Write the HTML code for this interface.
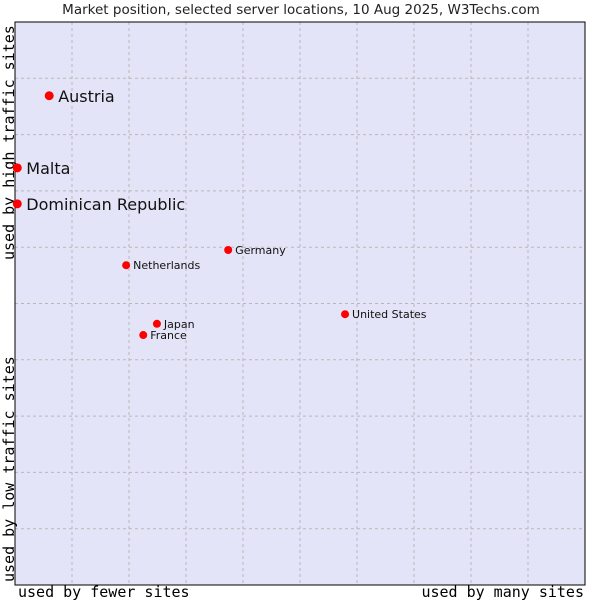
<!DOCTYPE html>
<html><head><meta charset="utf-8"><style>body{margin:0;background:#fff}svg{display:block}</style></head><body>
<svg id="c" width="600" height="600" xmlns="http://www.w3.org/2000/svg">
<rect width="600" height="600" fill="#fff"/>
<text x="301" y="14" text-anchor="middle" font-family="DejaVu Sans, sans-serif" font-size="13.5" fill="#222">Market position, selected server locations, 10 Aug 2025, W3Techs.com</text>
<rect x="15" y="22" width="570" height="563" fill="#e4e4f8"/>
<g id="grid"></g>
<rect x="15" y="22" width="570" height="563" fill="none" stroke="#000" stroke-width="1"/>
<text x="18" y="597" font-family="DejaVu Sans Mono, monospace" font-size="15" fill="#000">used by fewer sites</text>
<text x="584" y="597" text-anchor="end" font-family="DejaVu Sans Mono, monospace" font-size="15" fill="#000">used by many sites</text>
<text transform="translate(14,582) rotate(-90)" font-family="DejaVu Sans Mono, monospace" font-size="15" fill="#000">used by low traffic sites</text>
<text transform="translate(14,260) rotate(-90)" font-family="DejaVu Sans Mono, monospace" font-size="15" fill="#000">used by high traffic sites</text>
<g id="pts"></g>
</svg>
<script>
const names=["Austria","Malta","Dominican Republic","Germany","Netherlands","United States","Japan","France"];
const xs=[6,0.4,0.4,37.4,19.5,57.9,24.9,22.5];
const ys=[86.9,74.1,67.7,59.5,56.8,48.1,46.4,44.4];
const big=[true,true,true,false,false,false,false,false];
const ns="http://www.w3.org/2000/svg";
const X=v=>15+v*5.7, Y=v=>585-v*5.63;
const g=document.getElementById('grid');
for(let i=1;i<10;i++){
 const l=document.createElementNS(ns,'line');
 l.setAttribute('x1',X(i*10));l.setAttribute('x2',X(i*10));l.setAttribute('y1',22);l.setAttribute('y2',585);
 l.setAttribute('stroke','#b8b8b8');l.setAttribute('stroke-dasharray','3,3');
 
 
 g.appendChild(l);
 const h=document.createElementNS(ns,'line');
 h.setAttribute('y1',Y(i*10));h.setAttribute('y2',Y(i*10));h.setAttribute('x1',15);h.setAttribute('x2',585);
 h.setAttribute('stroke','#b8b8b8');h.setAttribute('stroke-dasharray','3,3');
 
 
 g.appendChild(h);
}
const p=document.getElementById('pts');
names.forEach((n,i)=>{
 const cx=X(xs[i]),cy=Y(ys[i]);
 const c=document.createElementNS(ns,'circle');
 c.setAttribute('cx',cx);c.setAttribute('cy',cy);c.setAttribute('r',big[i]?4.5:4);c.setAttribute('fill','#f00');
 
 
 p.appendChild(c);
 const t=document.createElementNS(ns,'text');
 t.setAttribute('x',cx+(big[i]?9:7));t.setAttribute('y',cy+(big[i]?6:4));
 t.setAttribute('font-family','DejaVu Sans, sans-serif');t.setAttribute('font-size',big[i]?16:11);t.setAttribute('fill','#111');
 t.textContent=n;
 
 
 p.appendChild(t);
});
</script>
</body></html>
